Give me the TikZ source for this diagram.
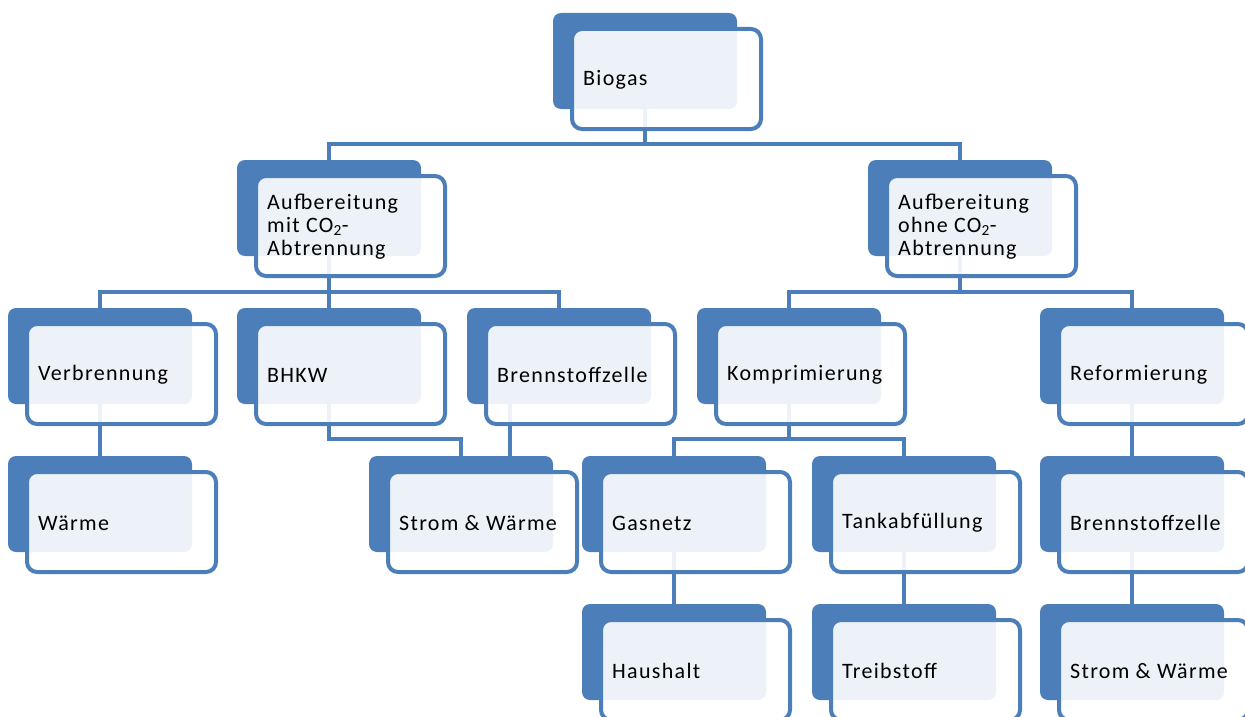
\documentclass[tikz,border=0pt]{standalone}
\usepackage{fontspec}
\setmainfont{Carlito}[LetterSpace=6]
\definecolor{accblue}{RGB}{76,126,186}
\tikzset{
  backbox/.style={rectangle, rounded corners=8pt, fill=accblue, minimum width=184pt, minimum height=96pt, inner sep=0pt, outer sep=0pt},
  frontbox/.style={rectangle, rounded corners=10pt, draw=accblue, line width=4pt, fill=white, fill opacity=0.9, minimum width=189pt, minimum height=100pt, inner sep=0pt, outer sep=0pt},
  lbl/.style={font=\fontsize{22}{23}\selectfont, align=left, inner sep=0pt, text=black},
  conn/.style={draw=accblue, line width=4.5pt}
}
\newcommand\mkbox[4]{%
  \node[backbox, anchor=north west] (#1) at (#2,#3) {};
  \node[frontbox, anchor=north west] (#1f) at ([shift={(19,16)}]#1.north west) {};
  \node[lbl, anchor=west] (#1t) at ([shift={(30,67)}]#1.north west) {#4};
}
\begin{document}
\begin{tikzpicture}[x=1pt, y=-1pt]
\useasboundingbox (0,0) rectangle (1245,717);
% connector anchor points (box centers)
\path (645,61) coordinate (c-bio)
      (329,208) coordinate (c-mit)
      (960,208) coordinate (c-ohne)
      (100,356) coordinate (c-verb)
      (329,356) coordinate (c-bhkw)
      (559,356) coordinate (c-bz1)
      (789,356) coordinate (c-komp)
      (1132,356) coordinate (c-ref)
      (100,504) coordinate (c-waerme)
      (461,504) coordinate (c-sw1)
      (674,504) coordinate (c-gas)
      (904,504) coordinate (c-tank)
      (1132,504) coordinate (c-bz2)
      (674,652) coordinate (c-haus)
      (904,652) coordinate (c-treib)
      (1132,652) coordinate (c-sw2);
\coordinate (h1) at (0,144);
\coordinate (h2) at (0,292);
\coordinate (h3) at (0,439);
% connectors
\draw[conn] (c-bio) -- (c-bio |- h1) -| (c-mit);
\draw[conn] (c-bio |- h1) -| (c-ohne);
\draw[conn] (c-mit) -- (c-mit |- h2) -| (c-verb);
\draw[conn] (c-mit |- h2) -| (c-bz1);
\draw[conn] (c-mit |- h2) -- (c-bhkw);
\draw[conn] (c-ohne) -- (c-ohne |- h2) -| (c-komp);
\draw[conn] (c-ohne |- h2) -| (c-ref);
\draw[conn] (c-verb) -- (c-waerme);
\draw[conn] (c-bhkw) |- (c-bhkw |- h3) -| (c-sw1);
\coordinate (bzx) at (510,0);
\draw[conn] (bzx |- c-bz1) -- (bzx |- c-sw1);
\draw[conn] (c-komp) -- (c-komp |- h3) -| (c-gas);
\draw[conn] (c-komp |- h3) -| (c-tank);
\draw[conn] (c-ref) -- (c-bz2);
\draw[conn] (c-gas) -- (c-haus);
\draw[conn] (c-tank) -- (c-treib);
\draw[conn] (c-bz2) -- (c-sw2);
% boxes
\mkbox{bio}{553}{13}{Biogas}
\mkbox{mit}{237}{160}{Aufbereitung\\mit CO\textsubscript{2}-\\Abtrennung}
\mkbox{ohne}{868}{160}{Aufbereitung\\ohne CO\textsubscript{2}-\\Abtrennung}
\mkbox{verb}{8}{308}{Verbrennung}
\mkbox{bhkw}{237}{308}{BHKW}
\mkbox{bz1}{467}{308}{Brennstoffzelle}
\mkbox{komp}{697}{308}{Komprimierung}
\mkbox{ref}{1040}{308}{Reformierung}
\mkbox{waerme}{8}{456}{Wärme}
\mkbox{sw1}{369}{456}{Strom \& Wärme}
\mkbox{gas}{582}{456}{Gasnetz}
\mkbox{tank}{812}{456}{Tankabfüllung}
\mkbox{bz2}{1040}{456}{Brennstoffzelle}
\mkbox{haus}{582}{604}{Haushalt}
\mkbox{treib}{812}{604}{Treibstoff}
\mkbox{sw2}{1040}{604}{Strom \& Wärme}
\end{tikzpicture}
\end{document}
